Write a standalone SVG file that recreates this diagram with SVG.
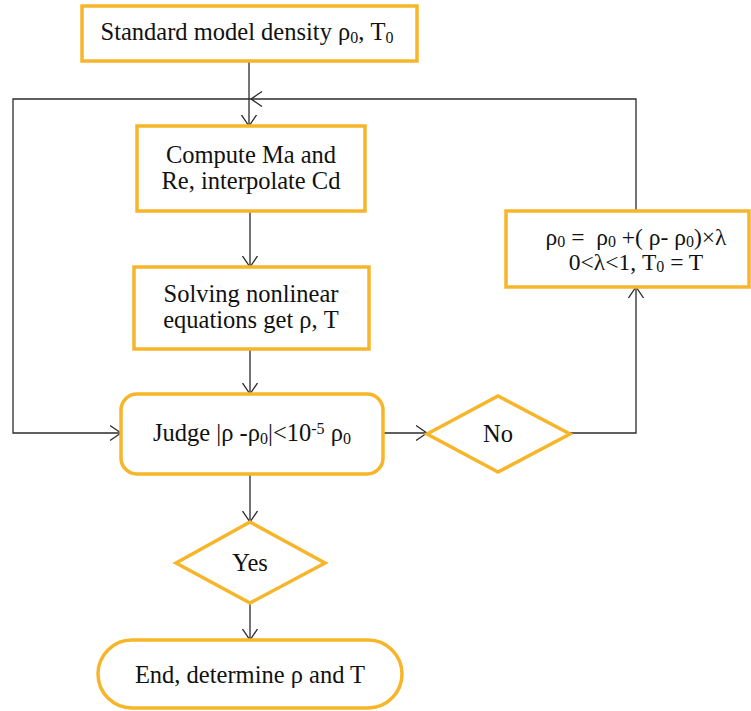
<svg xmlns="http://www.w3.org/2000/svg" width="751" height="711" viewBox="0 0 751 711">
<style>
.box{fill:#fff;stroke:#F7B52A;stroke-width:3.5}
.ln{fill:none;stroke:#2b2b2b;stroke-width:1.3}
text{font-family:"Liberation Serif","Times New Roman",serif;font-size:24.5px;fill:#111;text-anchor:middle}
.sub{font-size:16px}
.sm{font-size:23.5px}
</style>
<defs>
<marker id="ar" viewBox="0 0 12 16" refX="11.5" refY="8" markerWidth="12" markerHeight="16" markerUnits="userSpaceOnUse" orient="auto">
<path d="M0.5,0.5 L11.5,8 L0.5,15.5" fill="none" stroke="#2b2b2b" stroke-width="1.3"/>
</marker>
</defs>
<rect width="751" height="711" fill="#fff"/>
<g id="connectors">
<path class="ln" d="M249,61 V126" marker-end="url(#ar)"/>
<path class="ln" d="M636,211 V99 H251" marker-end="url(#ar)"/>
<path class="ln" d="M251,99 H13 V433 H121" marker-end="url(#ar)"/>
<path class="ln" d="M250,211 V267" marker-end="url(#ar)"/>
<path class="ln" d="M250,349 V394" marker-end="url(#ar)"/>
<path class="ln" d="M383,433 H427" marker-end="url(#ar)"/>
<path class="ln" d="M570,433 H636 V287" marker-end="url(#ar)"/>
<path class="ln" d="M250,474 V522" marker-end="url(#ar)"/>
<path class="ln" d="M250,603 V640" marker-end="url(#ar)"/>
</g>
<g id="start">
<rect class="box" x="82" y="6" width="335" height="55"/>
<text x="247" y="40">Standard model density ρ<tspan class="sub" dy="3">0</tspan><tspan dy="-3">, T</tspan><tspan class="sub" dy="3">0</tspan></text>
</g>
<g id="compute">
<rect class="box" x="137" y="126" width="228" height="85"/>
<text x="251" y="163">Compute Ma and</text>
<text x="251" y="189">Re, interpolate Cd</text>
</g>
<g id="solve">
<rect class="box" x="134" y="267" width="235" height="82"/>
<text x="251" y="302">Solving nonlinear</text>
<text x="251" y="328">equations get ρ, T</text>
</g>
<g id="judge">
<rect class="box" x="121" y="394" width="262" height="80" rx="16" ry="16"/>
<text x="252" y="441">Judge |ρ -ρ<tspan class="sub" dy="3">0</tspan><tspan dy="-3">|&lt;10</tspan><tspan class="sub" dy="-7">-5</tspan><tspan dy="7"> ρ</tspan><tspan class="sub" dy="3">0</tspan></text>
</g>
<g id="no">
<polygon class="box" points="427,434 498,396 570,434 498,472"/>
<text x="498" y="442">No</text>
</g>
<g id="update">
<rect class="box" x="506" y="211" width="243" height="76"/>
<text class="sm" x="636" y="245">ρ<tspan class="sub" dy="2">0</tspan><tspan dy="-2" xml:space="preserve"> =  ρ</tspan><tspan class="sub" dy="2">0</tspan><tspan dy="-2"> +( ρ- ρ</tspan><tspan class="sub" dy="2">0</tspan><tspan dy="-2">)×λ</tspan></text>
<text class="sm" x="636" y="270">0&lt;λ&lt;1, T<tspan class="sub" dy="2">0</tspan><tspan dy="-2"> = T</tspan></text>
</g>
<g id="yes">
<polygon class="box" points="176,563 250,522 325,563 250,603"/>
<text x="250" y="571">Yes</text>
</g>
<g id="end">
<rect class="box" x="98" y="640" width="304" height="68" rx="34" ry="34"/>
<text x="250" y="683">End, determine ρ and T</text>
</g>
</svg>
